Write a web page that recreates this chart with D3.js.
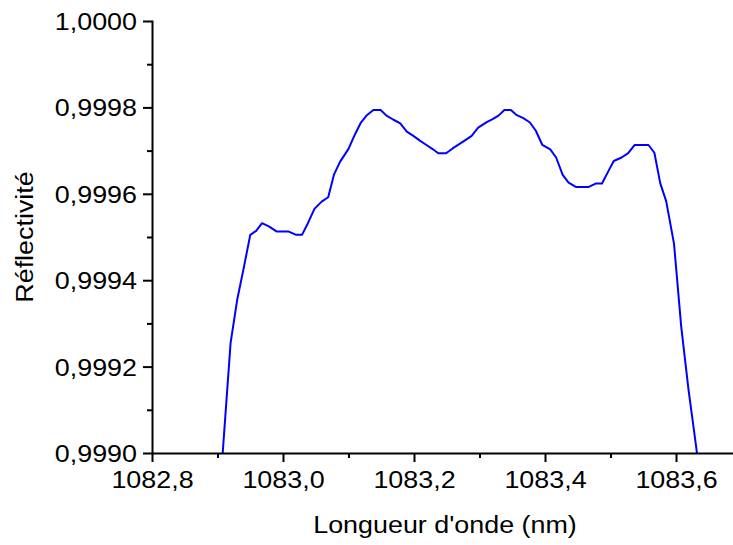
<!DOCTYPE html>
<html>
<head>
<meta charset="utf-8">
<script src="https://cdn.jsdelivr.net/npm/d3@7/dist/d3.min.js"></script>
<style>
  html, body { margin: 0; padding: 0; background: #fff; }
  svg { display: block; }
  text { font-family: "Liberation Sans", Arial, Helvetica, sans-serif; fill: #000; }
</style>
</head>
<body>
<script>
// Fibre Bragg grating reflectivity spectrum
const wavelength = [
  1082.900, 1082.910, 1082.920, 1082.930, 1082.940, 1082.950, 1082.959, 1082.968,
  1082.979, 1082.990, 1082.999, 1083.008, 1083.020, 1083.029, 1083.038, 1083.048,
  1083.059, 1083.069, 1083.078, 1083.087, 1083.100, 1083.110, 1083.119, 1083.128,
  1083.138, 1083.149, 1083.158, 1083.168, 1083.179, 1083.189, 1083.199, 1083.209,
  1083.219, 1083.229, 1083.237, 1083.249, 1083.259, 1083.269, 1083.279, 1083.288,
  1083.298, 1083.311, 1083.320, 1083.329, 1083.338, 1083.348, 1083.357, 1083.367,
  1083.377, 1083.386, 1083.396, 1083.408, 1083.417, 1083.427, 1083.436, 1083.447,
  1083.457, 1083.467, 1083.478, 1083.487, 1083.497, 1083.505, 1083.517, 1083.527,
  1083.537, 1083.547, 1083.558, 1083.567, 1083.576, 1083.585, 1083.597, 1083.608,
  1083.619, 1083.631, 1083.640
];
const reflectivity = [
  0.998831, 0.999044, 0.999255, 0.999354, 0.999428, 0.999505, 0.999514, 0.999532,
  0.999524, 0.999513, 0.999513, 0.999513, 0.999505, 0.999505, 0.999532, 0.999565,
  0.999582, 0.999592, 0.999645, 0.999674, 0.999704, 0.999738, 0.999765, 0.999782,
  0.999794, 0.999794, 0.999781, 0.999772, 0.999763, 0.999744, 0.999734, 0.999723,
  0.999713, 0.999703, 0.999694, 0.999694, 0.999705, 0.999715, 0.999725, 0.999734,
  0.999753, 0.999766, 0.999773, 0.999781, 0.999794, 0.999794, 0.999782, 0.999775,
  0.999765, 0.999746, 0.999713, 0.999703, 0.999684, 0.999644, 0.999626, 0.999616,
  0.999616, 0.999616, 0.999624, 0.999624, 0.999653, 0.999676, 0.999684, 0.999694,
  0.999713, 0.999713, 0.999713, 0.999695, 0.999624, 0.999583, 0.999484, 0.999292,
  0.999148, 0.999012, 0.998891
];

const xMajorTicks = [1082.8, 1083.0, 1083.2, 1083.4, 1083.6];
const xMinorTicks = [1082.9, 1083.1, 1083.3, 1083.5, 1083.7];
const yMajorTicks = [0.9990, 0.9992, 0.9994, 0.9996, 0.9998, 1.0000];
const yMinorTicks = [0.9991, 0.9993, 0.9995, 0.9997, 0.9999];

const xTitle = "Longueur d'onde (nm)";
const yTitle = "Réflectivité";

const W = 733, H = 545;
const FS = 24;         // label font size
const SX = 1.12;       // horizontal glyph stretch

const svg = d3.select("body").append("svg")
  .attr("width", W).attr("height", H);

const x = d3.scaleLinear().domain([1082.8, 1083.7]).range([152, 741.5]);
const y = d3.scaleLinear().domain([0.9990, 1.0000]).range([453, 21]);

const fmtX = d => d.toFixed(1).replace(".", ",");
const fmtY = d => d.toFixed(4).replace(".", ",");

// clip the trace to the frame
svg.append("clipPath").attr("id", "plot-clip")
  .append("rect")
  .attr("x", x.range()[0]).attr("y", y.range()[1])
  .attr("width", x.range()[1] - x.range()[0])
  .attr("height", y.range()[0] - y.range()[1]);

const pts = wavelength.map((w, i) => [w, reflectivity[i]]);
const line = d3.line().x(d => x(d[0])).y(d => y(d[1]));

svg.append("path")
  .datum(pts)
  .attr("clip-path", "url(#plot-clip)")
  .attr("fill", "none")
  .attr("stroke", "#0000ff")
  .attr("stroke-width", 2)
  .attr("stroke-linejoin", "round")
  .attr("d", line);

function styleAxis(g) {
  g.selectAll("path, line").attr("stroke", "#000").attr("stroke-width", 2);
  g.selectAll("path").attr("stroke-linecap", "square");
}

// bottom axis: minor then major ticks
const xMinorG = svg.append("g").attr("transform", `translate(0,${y.range()[0]})`)
  .call(d3.axisBottom(x).tickValues(xMinorTicks).tickSize(5).tickSizeOuter(0).tickFormat(""));
xMinorG.select(".domain").remove();
styleAxis(xMinorG);

const xAxisG = svg.append("g").attr("transform", `translate(0,${y.range()[0]})`)
  .call(d3.axisBottom(x).tickValues(xMajorTicks).tickSize(9).tickSizeOuter(0).tickFormat(fmtX));
styleAxis(xAxisG);
xAxisG.selectAll("text")
  .attr("y", 35).attr("dy", null)
  .attr("font-size", FS)
  .attr("font-family", "Liberation Sans, Arial, sans-serif")
  .attr("fill", "#000")
  .attr("transform", `scale(${SX},1)`);

// left axis: minor then major ticks
const yMinorG = svg.append("g").attr("transform", `translate(${x.range()[0]},0)`)
  .call(d3.axisLeft(y).tickValues(yMinorTicks).tickSize(5).tickSizeOuter(0).tickFormat(""));
yMinorG.select(".domain").remove();
styleAxis(yMinorG);

const yAxisG = svg.append("g").attr("transform", `translate(${x.range()[0]},0)`)
  .call(d3.axisLeft(y).tickValues(yMajorTicks).tickSize(9).tickSizeOuter(0).tickFormat(fmtY));
styleAxis(yAxisG);
yAxisG.selectAll("text")
  .attr("x", -15 / SX)
  .attr("dy", "0.35em")
  .attr("font-size", FS)
  .attr("font-family", "Liberation Sans, Arial, sans-serif")
  .attr("fill", "#000")
  .attr("transform", `scale(${SX},1)`);

// axis titles
svg.append("text")
  .attr("text-anchor", "middle")
  .attr("font-size", FS)
  .attr("transform", `translate(445,533) scale(${SX},1)`)
  .text(xTitle);

svg.append("text")
  .attr("text-anchor", "middle")
  .attr("font-size", FS)
  .attr("transform", `translate(33,237) rotate(-90) scale(${SX},1)`)
  .text(yTitle);
</script>
</body>
</html>
